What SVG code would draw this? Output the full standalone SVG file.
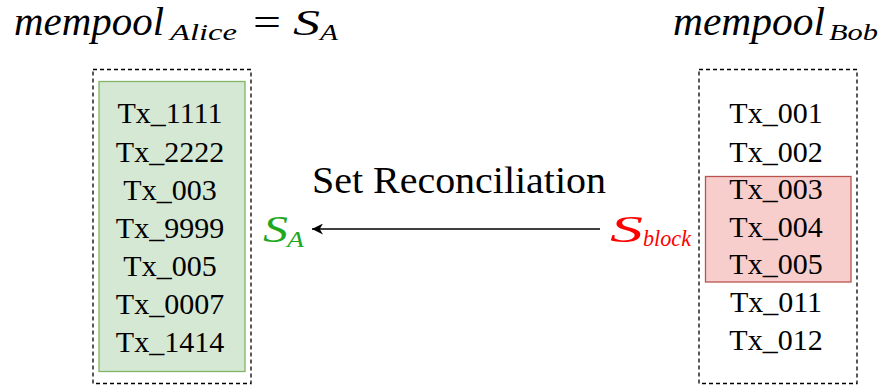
<svg xmlns="http://www.w3.org/2000/svg" width="885" height="386" viewBox="0 0 885 386">
<style>
.serif{font-family:"Liberation Serif","Times New Roman",serif}
.math{font-family:"Liberation Serif","Times New Roman",serif;font-style:italic}
.tx{font-family:"Liberation Serif","Times New Roman",serif;font-size:30px;text-anchor:middle;fill:#000}
.dash{fill:none;stroke:#000;stroke-width:1.3;stroke-dasharray:4 3}
</style>
<defs>
<marker id="ah" viewBox="0 0 10 10" refX="10" refY="5" markerWidth="11" markerHeight="11" markerUnits="userSpaceOnUse" orient="auto">
<path d="M0,0 L10,5 L0,10 L3,5 Z" fill="#000"/>
</marker>
</defs>
<rect width="885" height="386" fill="#fff"/>
<g id="title-alice">
<text class="math" x="14" y="35" font-size="40" textLength="150" lengthAdjust="spacingAndGlyphs">mempool</text>
<text class="math" x="170" y="40" font-size="24" textLength="67" lengthAdjust="spacingAndGlyphs">Alice</text>
<text class="serif" x="253" y="36" font-size="40" textLength="28" lengthAdjust="spacingAndGlyphs">=</text>
<text class="math" x="293" y="35" font-size="36" textLength="27" lengthAdjust="spacingAndGlyphs">S</text>
<text class="math" x="320" y="40" font-size="24" textLength="18" lengthAdjust="spacingAndGlyphs">A</text>
</g>
<g id="title-bob">
<text class="math" x="673" y="35" font-size="40" textLength="152" lengthAdjust="spacingAndGlyphs">mempool</text>
<text class="math" x="829" y="40" font-size="24" textLength="49" lengthAdjust="spacingAndGlyphs">Bob</text>
</g>
<g id="alice-mempool">
<rect class="dash" x="93" y="69.5" width="158" height="314"/>
<rect x="99" y="81.5" width="146" height="290" fill="#d5e8d4" stroke="#82b366" stroke-width="1.3"/>
<text class="tx" x="170" y="123">Tx_1111</text>
<text class="tx" x="170" y="161.5">Tx_2222</text>
<text class="tx" x="170" y="199.5">Tx_003</text>
<text class="tx" x="170" y="237.5">Tx_9999</text>
<text class="tx" x="170" y="276">Tx_005</text>
<text class="tx" x="170" y="314">Tx_0007</text>
<text class="tx" x="170" y="352">Tx_1414</text>
</g>
<g id="bob-mempool">
<rect class="dash" x="699" y="69.5" width="158" height="314"/>
<rect x="705.5" y="176.5" width="145.5" height="105.5" fill="#f8cecc" stroke="#b85450" stroke-width="1.3"/>
<text class="tx" x="776" y="123">Tx_001</text>
<text class="tx" x="776" y="161.5">Tx_002</text>
<text class="tx" x="776" y="198.5">Tx_003</text>
<text class="tx" x="776" y="236.5">Tx_004</text>
<text class="tx" x="776" y="274">Tx_005</text>
<text class="tx" x="776" y="312">Tx_011</text>
<text class="tx" x="776" y="350">Tx_012</text>
</g>
<g id="s-a" fill="#1fa81f">
<text class="math" x="263" y="241.5" font-size="38" textLength="25" lengthAdjust="spacingAndGlyphs">S</text>
<text class="math" x="287" y="247" font-size="24" textLength="17" lengthAdjust="spacingAndGlyphs">A</text>
</g>
<g id="s-block" fill="#ff0000">
<text class="math" x="610" y="241.5" font-size="38" textLength="33" lengthAdjust="spacingAndGlyphs">S</text>
<text class="math" x="643" y="245.5" font-size="24" textLength="48" lengthAdjust="spacingAndGlyphs">block</text>
</g>
<g id="connectors">
<line x1="600" y1="229" x2="312" y2="229" stroke="#000" stroke-width="1.3" marker-end="url(#ah)"/>
<text class="serif" x="459" y="193" font-size="38" text-anchor="middle" textLength="294" lengthAdjust="spacingAndGlyphs">Set Reconciliation</text>
</g>
</svg>
